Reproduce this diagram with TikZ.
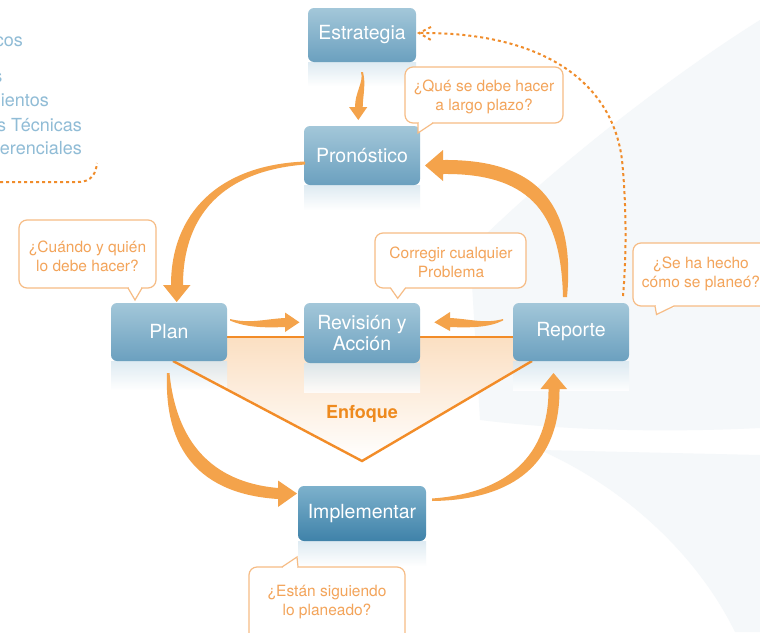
\documentclass[tikz,border=0pt]{standalone}
\usepackage{fontspec}
\setmainfont{TeX Gyre Heros}
\usetikzlibrary{calc}
\definecolor{boxtop}{HTML}{A3C7D9}
\definecolor{boxbot}{HTML}{6BA0BF}
\definecolor{imptop}{HTML}{7DB1CC}
\definecolor{impbot}{HTML}{3F82A9}
\definecolor{orline}{HTML}{F28C28}
\definecolor{arrfill}{HTML}{F4A34B}
\definecolor{bubline}{HTML}{F6BC85}
\definecolor{bubtext}{HTML}{F3A45A}
\definecolor{listtext}{HTML}{90BCD6}
\definecolor{enfo}{HTML}{EE8A1E}
\definecolor{dotc}{HTML}{F08C2A}
\definecolor{bgpale}{HTML}{F5F8FA}
\definecolor{reflc}{HTML}{D6E6EF}
\definecolor{peach}{HTML}{FBDFC2}
\begin{document}
\begin{tikzpicture}[x=1pt,y=-1pt,
  stepbox/.style={rounded corners=6pt, top color=boxtop, bottom color=boxbot, draw=none,
    text=white, font=\fontsize{19.5}{21}\selectfont, align=center, inner sep=0pt,
    minimum width=116pt, minimum height=58pt},
  reflbox/.style={top color=reflc, bottom color=white, draw=none, opacity=0.8},
  bubblebox/.style={draw=bubline, line width=1.2pt, fill=white, rounded corners=8pt, inner sep=0pt},
  bubtxt/.style={text=bubtext, font=\fontsize{15.5}{19}\selectfont, align=center, inner sep=0pt},
  tailline/.style={draw=bubline, line width=1.2pt, fill=white, line join=miter},
  listtxt/.style={text=listtext, font=\fontsize{18}{20}\selectfont, inner sep=0pt},
  orangeline/.style={draw=orline, line width=2.4pt, line join=miter},
  arrowshape/.style={fill=arrfill, draw=none},
  dotline/.style={draw=dotc, line width=2pt, dash pattern=on 3pt off 3pt}
]
\clip (0,0) rectangle (760,632);
\fill[white] (0,0) rectangle (760,632);
% background swooshes
\fill[bgpale] (470,250) .. controls (560,160) and (680,70) .. (760,20) -- (760,428)
  .. controls (660,433) and (560,430) .. (480,420) -- cycle;
\fill[bgpale] (540,450) .. controls (630,490) and (700,560) .. (735,632) -- (760,632) -- (760,455) -- cycle;

% left list (cropped)
\node[listtxt, anchor=base east] (l1) at (23,46) {cos};
\node[listtxt, anchor=base east] (l2) at (2.5,82) {s};
\node[listtxt, anchor=base east] (l3) at (49,106) {ientos};
\node[listtxt, anchor=base east] (l4) at (82,131) {s Técnicas};
\node[listtxt, anchor=base east] (l5) at (82,154) {erenciales};
\coordinate (ldot0) at (0,182);
\coordinate (ldot1) at (97,163);
\draw[dotline] (ldot0) -- (78,182) .. controls (92,182) and (96,173) .. (ldot1);

% Enfoque triangle fill
\shade[top color=peach, bottom color=white] (128,337) -- (571,337) -- (362,461) -- cycle;

% reflections
\shade[reflbox] (308,62) rectangle (416,86);
\shade[reflbox] (304,185) rectangle (420,210);
\shade[reflbox] (111,361) rectangle (227,390);
\shade[reflbox] (304,363) rectangle (420,392);
\shade[reflbox] (513,361) rectangle (629,390);
\shade[reflbox] (298,541) rectangle (426,566);

% triangle lines
\coordinate (tri) at (362,461);
\draw[orangeline] (227,337) -- (513,337);
\draw[orangeline] (173,361) -- (tri) -- (532,361);

% boxes
\node[stepbox, minimum width=108pt, minimum height=54pt] (estr) at (362,35) {Estrategia};
\node[stepbox, minimum height=59pt] (pron) at (362,155.5) {Pronóstico};
\node[stepbox] (plan) at (169,332) {Plan};
\node[stepbox, minimum height=60pt] (rev) at (362,333) {Revisión y\\Acción};
\node[stepbox] (rep) at (571,332) {Reporte};
\node[stepbox, top color=imptop, bottom color=impbot, minimum width=128pt, minimum height=55pt] (impl) at (362,513.5) {Implementar};

\node[text=enfo, font=\bfseries\fontsize{18}{20}\selectfont, inner sep=0pt] (enf) at (362,414) {Enfoque};

% arrows (tapered)
% Estrategia -> Pronostico
\fill[arrowshape] (361,72) .. controls (364,82) and (355,92) .. (355,107) -- (349,107) -- (358.3,120)
  -- (367.3,107) -- (362.7,107) .. controls (363,95) and (366,84) .. (363,72) -- cycle;
% Pronostico -> Plan
\fill[arrowshape] (305,161.5) .. controls (218,165) and (171,214) .. (171,285) -- (163,285) -- (176.7,302)
  -- (190.5,285) -- (183,285) .. controls (183,216) and (222,171) .. (305,164.5) -- cycle;
% Reporte -> Pronostico
\fill[arrowshape] (443,160) .. controls (545,159) and (575,212) .. (567,297) -- (563,297)
  .. controls (561,218) and (535,173) .. (443,174) -- (443,181) -- (425,165.5) -- (443,150) -- cycle;
% Plan -> Implementar
\fill[arrowshape] (167,373) .. controls (164,450) and (200,494) .. (278,499) -- (278,507) -- (297,493.5)
  -- (278,480.5) -- (278,488) .. controls (210,482) and (176,440) .. (169.5,373) -- cycle;
% Implementar -> Reporte
\fill[arrowshape] (432,501) .. controls (515,500) and (560,462) .. (559.5,389) -- (567,389) -- (553.5,373)
  -- (540.5,389) -- (548.5,389) .. controls (549,455) and (508,493) .. (432,498.5) -- cycle;
% Plan -> Revision
\fill[arrowshape] (230,319) .. controls (250,324) and (265,319) .. (285,318) -- (285,312.5) -- (299.5,322.3)
  -- (285,332) -- (285,327) .. controls (262,328) and (245,327) .. (230,320.5) -- cycle;
% Reporte -> Revision
\fill[arrowshape] (503,319) .. controls (485,324) and (470,319) .. (450,318) -- (450,312) -- (434.3,322.3)
  -- (450,331) -- (450,327) .. controls (473,328) and (490,327) .. (503,320.5) -- cycle;

% dotted feedback Reporte -> Estrategia
\coordinate (dotS) at (623,296);
\coordinate (dotE) at (420,33);
\draw[dotline] (dotS) .. controls (627,250) and (626,200) .. (622,160)
  .. controls (612,80) and (540,32) .. (dotE);
\draw[dotline] (431,27) -- (419,33) -- (431,40);

% bubbles
\node[bubblebox, minimum width=158pt, minimum height=56pt] (b1) at (484,95) {};
\fill[white] (418.7,120) rectangle (432.3,124.5);
\filldraw[tailline] (418,123) -- (418,133) -- (433,123);
\node[bubtxt] (t1) at (484,96.5) {¿Qué se debe hacer\\a largo plazo?};

\node[bubblebox, minimum width=137pt, minimum height=68pt] (b2) at (87.5,254) {};
\fill[white] (128.7,285) rectangle (141.3,289.5);
\filldraw[tailline] (128,288) -- (135,300) -- (142,288);
\node[bubtxt] (t2) at (87.5,256) {¿Cuándo y quién\\lo debe hacer?};

\node[bubblebox, minimum width=151pt, minimum height=55pt] (b3) at (450.5,260.5) {};
\fill[white] (391.2,285) rectangle (404.8,289.5);
\filldraw[tailline] (390.5,288) -- (397.7,298.3) -- (405.5,288);
\node[bubtxt] (t3) at (451,262) {Corregir cualquier\\Problema};

\node[bubblebox, minimum width=157pt, minimum height=63pt] (b4) at (711.5,274.5) {};
\fill[white] (655.6,303) rectangle (674,307.5);
\filldraw[tailline] (655,306) -- (656.5,314.5) -- (674,306);
\node[bubtxt] (t4) at (701,274) {¿Se ha hecho\\cómo se planeó?};

\node[bubblebox, minimum width=156pt, minimum height=88pt] (b5) at (327,611) {};
\fill[white] (282.8,565.5) rectangle (297.3,570);
\filldraw[tailline] (282,567) -- (297,557) -- (298,567);
\node[bubtxt] (t5) at (327,602.5) {¿Están siguiendo\\lo planeado?};
\end{tikzpicture}
\end{document}
